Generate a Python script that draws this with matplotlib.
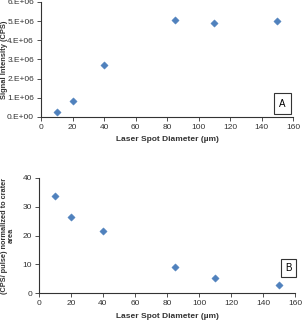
import math
import matplotlib
matplotlib.use("Agg")
import matplotlib.pyplot as plt
from matplotlib.ticker import FuncFormatter

plt.rcParams['font.family'] = ['Liberation Sans Narrow', 'Liberation Sans', 'DejaVu Sans']

spot_diam = [10, 20, 40, 85, 110, 150]
signal_cps = [0.27e6, 0.83e6, 2.7e6, 5.07e6, 4.9e6, 5.0e6]
normalized = [33.8, 26.4, 21.6, 9.0, 5.1, 2.8]

xticks = [0, 20, 40, 60, 80, 100, 120, 140, 160]
yticks_a = [0, 1e6, 2e6, 3e6, 4e6, 5e6, 6e6]
yticks_b = [0, 10, 20, 30, 40]

color = '#4F81BD'
fs = 6
txt = '#333333'

fig = plt.figure(figsize=(3.02, 3.21), dpi=100)
ax1 = fig.add_axes([41/302, 1-117/321, (293-41)/302, (117-2)/321])
ax2 = fig.add_axes([39/302, 1-293/321, (295-39)/302, (293-178)/321])

def sci(v, pos):
    if v == 0:
        return '0.E+00'
    exp = int(math.floor(math.log10(abs(v)) + 1e-9))
    m = v / 10**exp
    return f'{m:.0f}.E+{exp:02d}'

for ax, vals in ((ax1, signal_cps), (ax2, normalized)):
    ax.scatter(spot_diam, vals, marker='D', s=14, color=color, edgecolors=color,
               linewidths=0.3, zorder=3, clip_on=False)
    ax.set_xlim(0, 160)
    ax.set_xticks(xticks)
    for s in ('top', 'right'):
        ax.spines[s].set_visible(False)
    for s in ('left', 'bottom'):
        ax.spines[s].set_color(txt)
        ax.spines[s].set_linewidth(0.8)
    ax.tick_params(direction='out', length=3, width=0.6, labelsize=fs, colors=txt, pad=2)
    ax.set_xlabel('Laser Spot Diameter (\u00b5m)', fontsize=fs, fontweight='bold', color=txt, labelpad=4)

ax1.set_ylim(0, 6e6)
ax1.set_yticks(yticks_a)
ax1.yaxis.set_major_formatter(FuncFormatter(sci))
ax1.set_ylabel('Signal Intensity (CPS)', fontsize=5.4, fontweight='bold', color=txt, va='center')
ax1.yaxis.set_label_coords(-0.143, 0.5)

ax2.set_ylim(0, 40)
ax2.set_yticks(yticks_b)
ax2.set_ylabel('(CPS/ pulse) normalized to crater\narea', fontsize=5.3, fontweight='bold',
               color=txt, linespacing=1.05, va='center')
ax2.yaxis.set_label_coords(-0.122, 0.5)

ax1.text(0.958, 0.117, 'A', transform=ax1.transAxes, fontsize=7, ha='center', va='center',
         bbox=dict(boxstyle='square,pad=0.55', fc='white', ec=txt, lw=0.8))
ax2.text(0.973, 0.217, 'B', transform=ax2.transAxes, fontsize=7, ha='center', va='center',
         bbox=dict(boxstyle='square,pad=0.45', fc='white', ec=txt, lw=0.8))

fig.savefig('out.png', dpi=100)
